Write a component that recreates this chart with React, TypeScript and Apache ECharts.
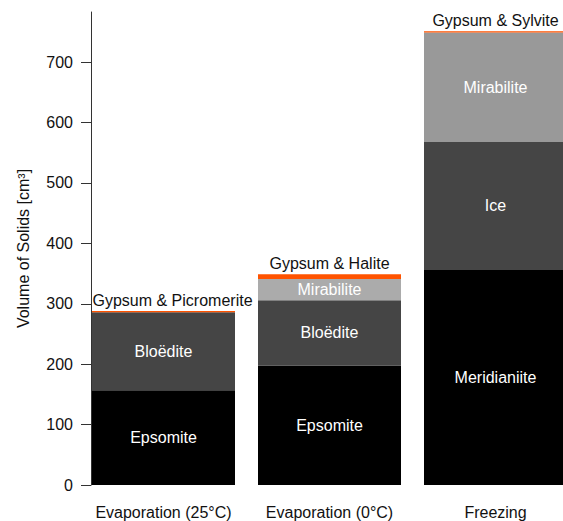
import React, { useEffect, useRef } from "react";
import * as echarts from "echarts";

const categories = ["Evaporation (25°C)", "Evaporation (0°C)", "Freezing"];
const layer1Names = ["Epsomite", "Epsomite", "Meridianiite"];
const layer1Values = [157, 198, 356];
const layer2Names = ["Bloëdite", "Bloëdite", "Ice"];
const layer2Values = [129, 108, 212];
const layer3Names = ["", "Mirabilite", "Mirabilite"];
const layer3Values: (number | string)[] = ["-", 35, 181];
const layer4Names = ["Gypsum & Picromerite", "Gypsum & Halite", "Gypsum & Sylvite"];
const layer4Values = [2, 8, 2];
const yTickValues = [0, 100, 200, 300, 400, 500, 600, 700];

const FONT = "'Liberation Sans', Arial, Helvetica, sans-serif";

export default function App() {
  const ref = useRef<HTMLDivElement>(null);
  useEffect(() => {
    if (!ref.current) return;
    const chart = echarts.init(ref.current, undefined, { renderer: "svg" });
    const inside = (names: string[]) => ({
      show: true,
      position: "inside" as const,
      color: "#fff",
      fontSize: 16,
      fontFamily: FONT,
      formatter: (p: any) => names[p.dataIndex],
    });
    chart.setOption({
      animation: false,
      textStyle: { fontFamily: FONT },
      grid: { left: 80.5, right: 21.5, top: 12, bottom: 36 },
      xAxis: {
        type: "category",
        data: categories,
        axisLine: { show: false },
        axisTick: { show: false },
        axisLabel: { color: "#111", fontSize: 16, fontFamily: FONT, margin: 19, interval: 0 },
      },
      yAxis: {
        type: "value",
        min: 0,
        max: 783,
        interval: 100,
        offset: -10.5,
        splitLine: { show: false },
        axisLine: { show: true, lineStyle: { color: "#333", width: 1 } },
        axisTick: { show: true, length: 10, lineStyle: { color: "#333" }, customValues: yTickValues },
        axisLabel: { color: "#111", fontSize: 16, fontFamily: FONT, margin: 18, customValues: yTickValues },
        name: "Volume of Solids [cm³]",
        nameLocation: "middle",
        nameGap: 60,
        nameTextStyle: { color: "#111", fontSize: 16, fontFamily: FONT },
      },
      series: [
        {
          type: "bar",
          stack: "s",
          barWidth: 143,
          data: layer1Values,
          itemStyle: { color: "#000" },
          label: inside(layer1Names),
        },
        {
          type: "bar",
          stack: "s",
          barWidth: 143,
          data: layer2Values,
          itemStyle: { color: "#454545" },
          label: inside(layer2Names),
        },
        {
          type: "bar",
          stack: "s",
          barWidth: 143,
          data: layer3Values.map((v, i) => ({
            value: v,
            itemStyle: { color: i === 1 ? "#ababab" : "#999999" },
          })),
          label: inside(layer3Names),
        },
        {
          type: "bar",
          stack: "s",
          barWidth: 143,
          data: layer4Values.map((v, i) => ({
            value: v,
            label: i === 0 ? { offset: [9, 0] } : undefined,
          })),
          itemStyle: { color: "#ff5300" },
          label: {
            show: true,
            position: "top",
            distance: 3,
            color: "#111",
            fontSize: 16,
            fontFamily: FONT,
            formatter: (p: any) => layer4Names[p.dataIndex],
          },
        },
      ],
    });
    return () => chart.dispose();
  }, []);
  return (
    <div
      style={{ position: "absolute", left: 0, top: 0, width: 563, height: 521, overflow: "hidden" }}
    >
      <div ref={ref} style={{ width: 600, height: 521 }} />
    </div>
  );
}
